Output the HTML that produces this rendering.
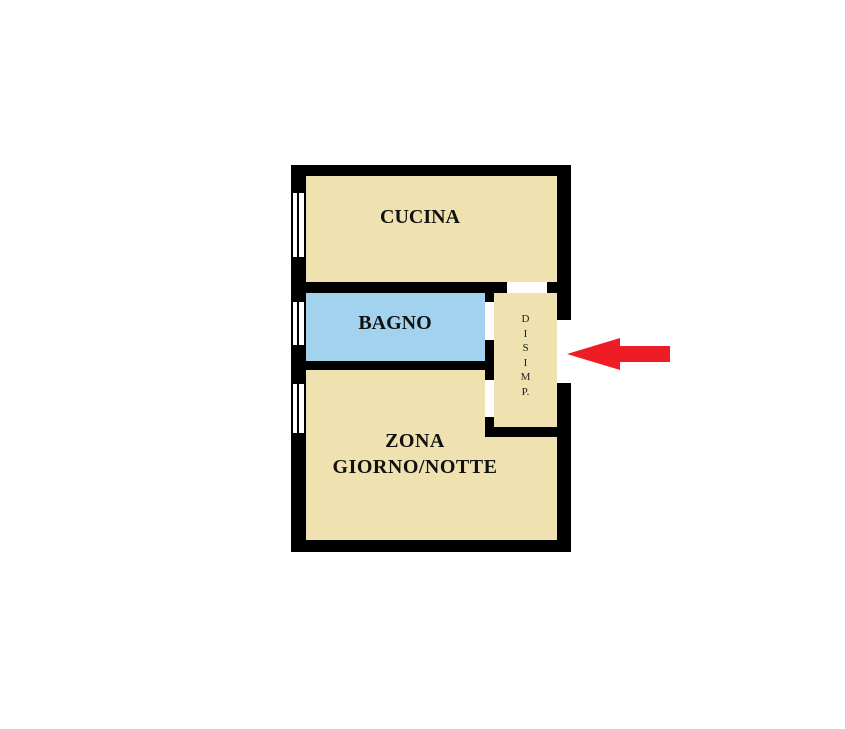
<!DOCTYPE html>
<html><head><style>
body{margin:0;width:845px;height:729px;background:#fff;position:relative;overflow:hidden;font-family:"Liberation Serif",serif}
div{position:absolute}
.t{font-weight:bold;color:#111;font-size:20px;text-align:center}
</style></head><body>
<div style="left:291px;top:165px;width:280px;height:387px;background:#000"></div>
<div style="left:306px;top:176px;width:251px;height:106px;background:#efe2b0"></div>
<div style="left:507px;top:282px;width:40px;height:11px;background:#fff"></div>
<div style="left:306px;top:293px;width:179px;height:68px;background:#a3d2ee"></div>
<div style="left:306px;top:370px;width:251px;height:170px;background:#efe2b0"></div>
<div style="left:485px;top:361px;width:72px;height:76px;background:#000"></div>
<div style="left:494px;top:293px;width:63px;height:134px;background:#efe2b0"></div>
<div style="left:485px;top:302px;width:9px;height:38px;background:#fff"></div>
<div style="left:485px;top:380px;width:9px;height:37px;background:#fff"></div>
<div style="left:557px;top:320px;width:14px;height:63px;background:#fff"></div>
<div style="left:293px;top:193px;width:11px;height:64px;background:#fff"></div>
<div style="left:297px;top:193px;width:2px;height:64px;background:#000"></div>
<div style="left:293px;top:302px;width:11px;height:43px;background:#fff"></div>
<div style="left:297px;top:302px;width:2px;height:43px;background:#000"></div>
<div style="left:293px;top:384px;width:11px;height:49px;background:#fff"></div>
<div style="left:297px;top:384px;width:2px;height:49px;background:#000"></div>
<div class="t" style="left:340px;top:206px;width:160px">CUCINA</div>
<div class="t" style="left:320px;top:312px;width:150px">BAGNO</div>
<div class="t" style="left:305px;top:428px;width:220px;line-height:26px;letter-spacing:0.5px">ZONA<br>GIORNO/NOTTE</div>
<div style="left:494px;top:312px;width:63px;text-align:center;font-size:11px;line-height:14.5px;color:#222">D<br>I<br>S<br>I<br>M<br>P.</div>
<svg style="position:absolute;left:0;top:0" width="845" height="729"><polygon points="567,354 620,338 620,346 670,346 670,362 620,362 620,370" fill="#ee1c24"/></svg>
</body></html>
